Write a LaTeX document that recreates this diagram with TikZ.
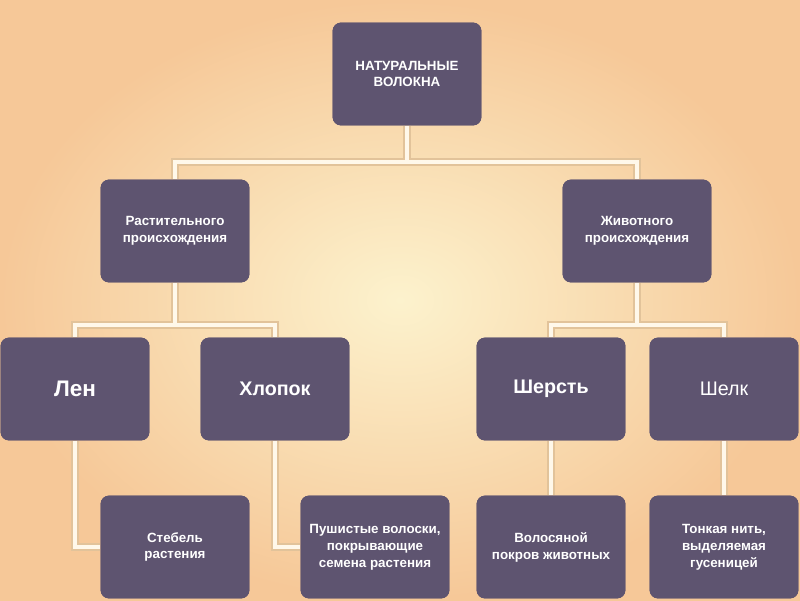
\documentclass[tikz,border=0pt]{standalone}
\usepackage{fontspec}
\setmainfont{Liberation Sans}
\begin{document}
\begin{tikzpicture}[x=0.025cm,y=-0.025cm,
 box/.style={draw=none,fill=boxc,rounded corners=6pt,minimum width=3.72cm,minimum height=2.57cm,text=white,align=center,inner sep=1pt},
 conn/.style={draw=linec,line width=3.5pt},
 shad/.style={draw=shadc,line width=5pt}]
\definecolor{boxc}{HTML}{5E5470}
\definecolor{linec}{HTML}{FFF8EA}
\definecolor{shadc}{HTML}{E2C39A}
\shade[inner color={rgb,255:red,252;green,242;blue,205},outer color={rgb,255:red,246;green,200;blue,152}] (0,0) rectangle (800,600);
\useasboundingbox (0,0) rectangle (800,600);
\coordinate (t) at (407,74);
\node[box,font=\bfseries\fontsize{9.5}{12}\selectfont] (top) at (407,74) {НАТУРАЛЬНЫЕ\\ВОЛОКНА};
\node[box,font=\bfseries\fontsize{9.5}{12}\selectfont] (rast) at (175,231) {Растительного\\происхождения};
\node[box,font=\bfseries\fontsize{9.5}{12}\selectfont] (zhiv) at (637,231) {Животного\\происхождения};
\node[box,font=\bfseries\fontsize{16}{19}\selectfont] (len) at (75,389) {Лен};
\node[box,font=\bfseries\fontsize{14}{17}\selectfont] (hlop) at (275,389) {Хлопок};
\node[box,font=\bfseries\fontsize{14}{17}\selectfont] (sher) at (551,389) {Шерсть};
\node[box,font=\fontsize{14}{17}\selectfont] (shel) at (724,389) {Шелк};
\node[box,font=\bfseries\fontsize{9.5}{12}\selectfont] (steb) at (175,547) {Стебель\\растения};
\node[box,font=\bfseries\fontsize{9.5}{12}\selectfont] (push) at (375,547) {Пушистые волоски,\\покрывающие\\семена растения};
\node[box,font=\bfseries\fontsize{9.5}{12}\selectfont] (volo) at (551,547) {Волосяной\\покров животных};
\node[box,font=\bfseries\fontsize{9.5}{12}\selectfont] (tonk) at (724,547) {Тонкая нить,\\выделяемая\\гусеницей};
\begin{scope}[on background layer/.style={}]
\end{scope}
\begin{pgfinterruptboundingbox}
\end{pgfinterruptboundingbox}
% connectors drawn then boxes redrawn on top
\foreach \s in {shad,conn}{
 \draw[\s] (top.south) -- (407,162) -| (rast.north);
 \draw[\s] (407,162) -| (zhiv.north);
 \draw[\s] (rast.south) -- (175,325) -| (len.north);
 \draw[\s] (175,325) -| (hlop.north);
 \draw[\s] (zhiv.south) -- (637,325) -| (sher.north);
 \draw[\s] (637,325) -| (shel.north);
 \draw[\s] (len.south) |- (steb.west);
 \draw[\s] (hlop.south) |- (push.west);
 \draw[\s] (sher.south) -- (volo.north);
 \draw[\s] (shel.south) -- (tonk.north);
}
\node[box,font=\bfseries\fontsize{9.5}{12}\selectfont] at (407,74) {НАТУРАЛЬНЫЕ\\ВОЛОКНА};
\node[box,font=\bfseries\fontsize{9.5}{12}\selectfont] at (175,231) {Растительного\\происхождения};
\node[box,font=\bfseries\fontsize{9.5}{12}\selectfont] at (637,231) {Животного\\происхождения};
\node[box,font=\bfseries\fontsize{16}{19}\selectfont] at (75,389) {Лен};
\node[box,font=\bfseries\fontsize{14}{17}\selectfont] at (275,389) {Хлопок};
\node[box,font=\bfseries\fontsize{14}{17}\selectfont] at (551,389) {Шерсть};
\node[box,font=\fontsize{14}{17}\selectfont] at (724,389) {Шелк};
\node[box,font=\bfseries\fontsize{9.5}{12}\selectfont] at (175,547) {Стебель\\растения};
\node[box,font=\bfseries\fontsize{9.5}{12}\selectfont] at (375,547) {Пушистые волоски,\\покрывающие\\семена растения};
\node[box,font=\bfseries\fontsize{9.5}{12}\selectfont] at (551,547) {Волосяной\\покров животных};
\node[box,font=\bfseries\fontsize{9.5}{12}\selectfont] at (724,547) {Тонкая нить,\\выделяемая\\гусеницей};
\end{tikzpicture}
\end{document}
